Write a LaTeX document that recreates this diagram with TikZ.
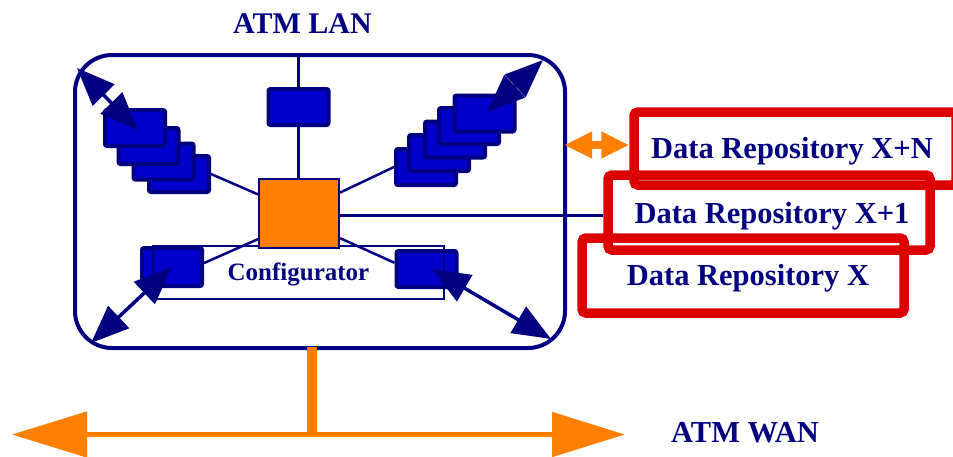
\documentclass[tikz,border=0pt]{standalone}
\usepackage{fontspec}
\setmainfont{Liberation Serif}
\usetikzlibrary{arrows.meta}
\pgfdeclarelayer{bg}
\pgfsetlayers{bg,main}
\definecolor{navy}{HTML}{000080}
\definecolor{boxblue}{HTML}{0000CC}
\definecolor{orng}{HTML}{FF8000}
\definecolor{repred}{HTML}{DD0000}
\begin{document}
\begin{tikzpicture}[x=1pt,y=-1pt,
  bluebox/.style={draw=navy, fill=boxblue, line width=4pt, rounded corners=2pt, minimum width=60pt, minimum height=36pt, inner sep=0pt},
  wire/.style={draw=navy, line width=2.5pt},
  navyarrow/.style={draw=navy, line width=3.5pt, {Triangle[length=38pt,width=30pt]}-{Triangle[length=38pt,width=30pt]}},
  repobox/.style={draw=repred, line width=9.5pt, rounded corners=4pt, minimum width=322pt, minimum height=75pt, inner sep=0pt},
  bigtxt/.style={text=navy, font=\bfseries\fontsize{30.5}{36}\selectfont, inner sep=0pt, anchor=base},
  cfgtext/.style={text=navy, font=\bfseries\fontsize{25}{30}\selectfont, inner sep=0pt, anchor=base},
  orangearrow/.style={draw=orng, line width=8pt, {Triangle[length=28pt,width=25pt]}-{Triangle[length=28pt,width=25pt]}},
  wanarrow/.style={draw=orng, line width=5pt, {Triangle[length=75pt,width=45pt]}-{Triangle[length=73pt,width=44pt]}},
]
\useasboundingbox (0,0) rectangle (953,456);
\begin{pgfonlayer}{bg}
\fill[white] (0,0) rectangle (953,456);
\end{pgfonlayer}

% LAN frame
\node[draw=navy, line width=4pt, rounded corners=37pt, minimum width=490pt, minimum height=293pt, inner sep=0pt] (lan) at (320,201.5) {};

% top-left stack
\node[bluebox] (a4) at (179,174) {};
\node[bluebox] (a3) at (163.5,161.5) {};
\node[bluebox] (a2) at (148.5,146) {};
\node[bluebox] (a1) at (135,128) {};
% top-right stack
\node[bluebox] (c5) at (426,167) {};
\node[bluebox] (c4) at (439,153) {};
\node[bluebox] (c3) at (455,139.5) {};
\node[bluebox] (c2) at (469,126) {};
\node[bluebox] (c1) at (484.5,113.5) {};
% single boxes
\node[bluebox] (tm) at (298.5,107) {};
\node[bluebox, minimum height=38pt] (ll) at (172,267) {};
\node[bluebox] (lr) at (426.5,269) {};

% configurator frame and box
\node[draw=navy, line width=2pt, minimum width=291pt, minimum height=53pt, inner sep=0pt] (frame) at (298.5,272.5) {};
\node[draw=navy, fill=orng, line width=2pt, minimum width=80pt, minimum height=69pt, inner sep=0pt] (cfg) at (299,213.5) {};
\node[cfgtext] (cfgtxt) at (298.5,280) {Configurator};

% repository boxes
\node[repobox, minimum height=73pt] (rxn) at (795,148.5) {};
\node[repobox] (rx1) at (769,212.5) {};
\node[repobox] (rx) at (743,275.5) {};
\node[bigtxt] (tn) at (792,158) {Data Repository X+N};
\node[bigtxt] (t1) at (772,223) {Data Repository X+1};
\node[bigtxt] (t0) at (748,285) {Data Repository X};

% titles
\node[bigtxt, font=\bfseries\fontsize{30}{36}\selectfont] (lantxt) at (302.5,33) {ATM LAN};
\node[bigtxt] (wantxt) at (745,442) {ATM WAN};

% wires behind
\begin{pgfonlayer}{bg}
\draw[wire] (tm |- lan.north) -- (tm |- cfg.north);
\draw[wire] (a4.east) -- (cfg.155);
\draw[wire] (c5.west) -- (cfg.27);
\draw[wire] (cfg.-3) -- (cfg.-3 -| rx1.west);
\draw[wire] (cfg.212) -- (ll.7);
\draw[wire] (cfg.-31) -- (lr.169);
\end{pgfonlayer}

% navy double arrows
\coordinate (tlc) at (77,68);
\coordinate (tlb) at (138,130);
\coordinate (trc) at (543,60);
\coordinate (trb) at (487,112);
\coordinate (blc) at (91,343);
\coordinate (brc) at (551,339);
\coordinate (brb) at (432,269);
\draw[navyarrow] (tlc) -- (tlb);
\draw[navyarrow] (trc) -- (trb);
\draw[navyarrow] (blc) -- (ll.center);
\draw[navyarrow] (brc) -- (brb);

% orange link to repositories
\coordinate (oa) at (564,145);
\draw[orangearrow] (oa) -- (oa -| rxn.west);

% WAN
\coordinate (wl) at (12,434.5);
\coordinate (wr) at (625,434.5);
\coordinate (drop) at (312,347);
\draw[wanarrow] (wl) -- (wr);
\draw[draw=orng, line width=10pt] (drop) -- (drop |- wl);
\end{tikzpicture}
\end{document}
